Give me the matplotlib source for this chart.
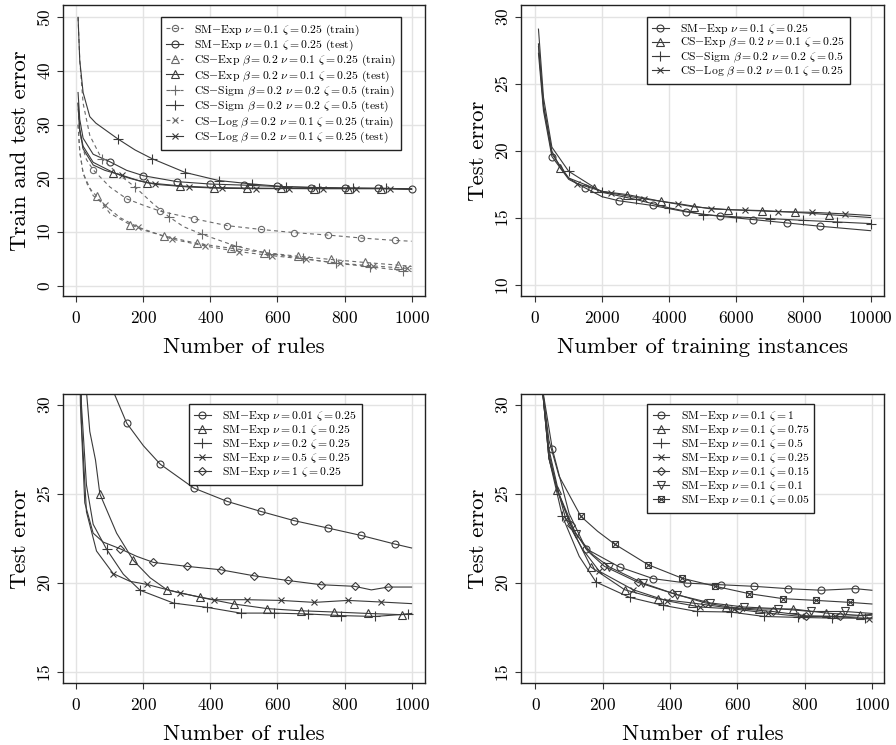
import matplotlib
matplotlib.use("Agg")
import matplotlib.pyplot as plt
from matplotlib.legend_handler import HandlerTuple

plt.rcParams['font.family'] = ['cmr10', 'DejaVu Serif']
plt.rcParams['mathtext.fontset'] = 'cm'
plt.rcParams['axes.formatter.use_mathtext'] = True

# ---------------- top left: train / test error vs number of rules ----------------
tl_labels = [r'SM$-$Exp $\nu = 0.1$ $\zeta = 0.25$ (train)',
             r'SM$-$Exp $\nu = 0.1$ $\zeta = 0.25$ (test)',
             r'CS$-$Exp $\beta = 0.2$ $\nu = 0.1$ $\zeta = 0.25$ (train)',
             r'CS$-$Exp $\beta = 0.2$ $\nu = 0.1$ $\zeta = 0.25$ (test)',
             r'CS$-$Sigm $\beta = 0.2$ $\nu = 0.2$ $\zeta = 0.5$ (train)',
             r'CS$-$Sigm $\beta = 0.2$ $\nu = 0.2$ $\zeta = 0.5$ (test)',
             r'CS$-$Log $\beta = 0.2$ $\nu = 0.1$ $\zeta = 0.25$ (train)',
             r'CS$-$Log $\beta = 0.2$ $\nu = 0.1$ $\zeta = 0.25$ (test)']

sm_train_x = [5, 10, 20, 30, 50, 100, 150, 200, 250, 350, 450, 550, 650, 750, 850, 950, 1000]
sm_train_y = [33, 29, 25.5, 23.5, 21.6, 18.4, 16.2, 15.0, 13.9, 12.5, 11.2, 10.5, 9.9, 9.45, 8.9, 8.45, 8.3]
sm_test_x = [5, 10, 20, 50, 100, 150, 200, 300, 400, 500, 600, 700, 800, 900, 1000]
sm_test_y = [36, 31, 27.5, 24.5, 23.1, 21.5, 20.5, 19.4, 18.95, 18.75, 18.5, 18.3, 18.2, 18.15, 18.0]
cse_train_x = [5, 10, 20, 35, 60, 100, 160, 210, 260, 360, 460, 560, 660, 760, 860, 960, 1000]
cse_train_y = [30, 25, 21, 18.5, 16.7, 13.5, 11.4, 10.2, 9.3, 7.9, 7.0, 6.2, 5.5, 4.9, 4.35, 3.85, 3.6]
cse_test_x = [5, 10, 20, 50, 110, 160, 210, 310, 410, 510, 610, 710, 810, 910, 1000]
cse_test_y = [34, 29, 26, 23, 21.1, 20.0, 19.2, 18.6, 18.3, 18.2, 18.15, 18.1, 18.1, 18.1, 18.0]
css_train_x = [5, 10, 20, 40, 75, 125, 175, 225, 275, 320, 375, 475, 575, 675, 775, 875, 975, 1000]
css_train_y = [50, 42, 34, 28, 23.7, 20.8, 18.4, 15.5, 12.9, 11.0, 9.6, 7.4, 6.0, 5.1, 4.2, 3.55, 2.8, 2.65]
css_test_x = [5, 10, 20, 40, 58, 125, 175, 225, 325, 425, 525, 625, 725, 825, 925, 1000]
css_test_y = [50, 42, 36, 31.5, 30.3, 27.3, 25.3, 23.7, 21.1, 19.6, 18.95, 18.45, 18.3, 18.2, 18.15, 18.05]
csl_train_x = [5, 10, 20, 50, 85, 130, 185, 285, 385, 485, 585, 685, 785, 885, 985, 1000]
csl_train_y = [30, 25, 21, 16.8, 15.0, 12.7, 10.9, 8.7, 7.4, 6.35, 5.6, 4.95, 4.2, 3.7, 3.25, 3.15]
csl_test_x = [5, 10, 20, 50, 85, 135, 185, 235, 335, 435, 535, 635, 735, 835, 935, 1000]
csl_test_y = [34, 29, 25.5, 22.5, 21.5, 20.6, 19.6, 18.9, 18.4, 18.15, 18.1, 18.1, 18.1, 18.1, 18.1, 18.0]

# ---------------- top right: test error vs training instances ----------------
tr_labels = [r'SM$-$Exp $\nu = 0.1$ $\zeta = 0.25$',
             r'CS$-$Exp $\beta = 0.2$ $\nu = 0.1$ $\zeta = 0.25$',
             r'CS$-$Sigm $\beta = 0.2$ $\nu = 0.2$ $\zeta = 0.5$',
             r'CS$-$Log $\beta = 0.2$ $\nu = 0.1$ $\zeta = 0.25$']
tr_sm_x = [100, 250, 500, 1000, 1500, 2000, 2500, 3500, 4500, 5500, 6500, 7500, 8500, 10000]
tr_sm_y = [27.3, 23.0, 19.6, 17.9, 17.25, 16.6, 16.3, 15.95, 15.47, 15.14, 14.9, 14.65, 14.4, 14.07]
tr_cse_x = [100, 250, 500, 750, 1000, 1750, 2000, 2750, 3750, 4750, 5750, 6750, 7750, 8750, 10000]
tr_cse_y = [28.0, 23.5, 20.0, 18.75, 18.0, 17.25, 17.0, 16.76, 16.26, 15.84, 15.64, 15.57, 15.44, 15.27, 15.05]
tr_css_x = [100, 250, 500, 1000, 2000, 3000, 4000, 5000, 6000, 7000, 8000, 9000, 10000]
tr_css_y = [29.1, 24.0, 20.3, 18.5, 16.93, 16.4, 15.77, 15.27, 15.1, 14.97, 14.84, 14.72, 14.6]
tr_csl_x = [100, 250, 500, 1000, 1250, 2000, 2250, 3250, 4250, 5250, 6250, 7250, 8250, 9250, 10000]
tr_csl_y = [27.8, 23.3, 19.8, 18.0, 17.58, 17.0, 16.88, 16.44, 16.09, 15.69, 15.59, 15.49, 15.44, 15.32, 15.2]

# ---------------- bottom left: varying nu ----------------
bl_labels = [r'SM$-$Exp $\nu = 0.01$ $\zeta = 0.25$',
             r'SM$-$Exp $\nu = 0.1$ $\zeta = 0.25$',
             r'SM$-$Exp $\nu = 0.2$ $\zeta = 0.25$',
             r'SM$-$Exp $\nu = 0.5$ $\zeta = 0.25$',
             r'SM$-$Exp $\nu = 1$ $\zeta = 0.25$']
nu001_x = [5, 50, 100, 150, 200, 250, 350, 450, 550, 650, 750, 850, 950, 1000]
nu001_y = [48, 37, 31.2, 28.97, 27.7, 26.67, 25.33, 24.58, 24.02, 23.5, 23.09, 22.67, 22.19, 21.97]
nu01_x = [5, 20, 40, 57, 70, 120, 170, 220, 270, 370, 470, 570, 670, 770, 870, 970, 1000]
nu01_y = [45, 33, 28.5, 26.9, 25.0, 22.8, 21.27, 20.3, 19.63, 19.2, 18.83, 18.57, 18.45, 18.38, 18.3, 18.23, 18.3]
nu02_x = [5, 15, 30, 50, 90, 140, 190, 290, 390, 490, 590, 690, 790, 890, 990, 1000]
nu02_y = [42, 30, 25.5, 23.3, 21.9, 20.5, 19.6, 18.88, 18.64, 18.32, 18.32, 18.27, 18.18, 18.13, 18.27, 18.3]
nu05_x = [5, 15, 30, 60, 110, 160, 210, 310, 410, 510, 610, 710, 810, 910, 1000]
nu05_y = [40, 29, 24, 21.8, 20.53, 20.1, 19.93, 19.44, 19.07, 19.07, 19.03, 18.92, 19.03, 18.94, 18.85]
nu1_x = [5, 12, 25, 50, 80, 130, 180, 230, 330, 430, 530, 630, 730, 830, 880, 930, 1000]
nu1_y = [40, 30, 24.5, 22.8, 22.3, 21.93, 21.5, 21.16, 20.94, 20.75, 20.41, 20.15, 19.91, 19.82, 19.62, 19.78, 19.78]

# ---------------- bottom right: varying zeta ----------------
br_labels = [r'SM$-$Exp $\nu = 0.1$ $\zeta = 1$',
             r'SM$-$Exp $\nu = 0.1$ $\zeta = 0.75$',
             r'SM$-$Exp $\nu = 0.1$ $\zeta = 0.5$',
             r'SM$-$Exp $\nu = 0.1$ $\zeta = 0.25$',
             r'SM$-$Exp $\nu = 0.1$ $\zeta = 0.15$',
             r'SM$-$Exp $\nu = 0.1$ $\zeta = 0.1$',
             r'SM$-$Exp $\nu = 0.1$ $\zeta = 0.05$']
z1_x = [5, 20, 50, 100, 150, 250, 350, 450, 550, 650, 750, 850, 950, 1000]
z1_y = [45, 31, 27.53, 23.9, 21.93, 20.9, 20.25, 20.0, 19.91, 19.82, 19.69, 19.6, 19.69, 19.6]
z075_x = [5, 20, 40, 65, 115, 165, 265, 365, 465, 565, 665, 765, 865, 965, 1000]
z075_y = [45, 31, 27, 25.2, 22.8, 20.9, 19.63, 19.11, 18.89, 18.64, 18.55, 18.55, 18.32, 18.19, 18.25]
z05_x = [5, 20, 40, 80, 130, 180, 280, 380, 480, 580, 680, 780, 880, 980, 1000]
z05_y = [45, 31, 27, 23.74, 21.5, 20.06, 19.2, 18.75, 18.41, 18.38, 18.13, 18.08, 18.04, 18.04, 18.05]
z025_x = [5, 20, 40, 90, 140, 190, 290, 390, 490, 590, 690, 790, 890, 990, 1000]
z025_y = [45, 31, 27, 23.6, 21.9, 20.66, 19.63, 19.01, 18.66, 18.55, 18.32, 18.13, 18.13, 18.0, 18.0]
z015_x = [5, 20, 40, 65, 105, 155, 205, 305, 405, 505, 605, 705, 805, 905, 1000]
z015_y = [45, 31, 27.3, 25.2, 23.24, 21.8, 20.94, 20.04, 19.44, 18.89, 18.57, 18.41, 18.17, 18.13, 18.2]
z01_x = [5, 20, 40, 70, 120, 170, 220, 320, 420, 520, 620, 720, 820, 920, 1000]
z01_y = [45, 31, 27.5, 25.0, 22.75, 21.6, 20.9, 20.0, 19.35, 18.89, 18.66, 18.57, 18.41, 18.41, 18.3]
z005_x = [5, 20, 40, 70, 135, 185, 235, 335, 435, 535, 635, 735, 835, 935, 1000]
z005_y = [45, 31, 28, 26, 23.74, 22.9, 22.19, 21.03, 20.28, 19.82, 19.41, 19.13, 19.03, 18.92, 18.83]


def marks(xs, first, step):
    # indices of the points that carry a marker (every `step` from `first`)
    return [i for i, v in enumerate(xs) if v >= first and (v - first) % step == 0]


def series(ax, xs, ys, marker, first, step, ls='-', color='#3a3a3a', ms=5, lw=0.8):
    h, = ax.plot(xs, ys, ls=ls, color=color, lw=lw, marker=marker, ms=ms,
                 mfc='none', mec=color, mew=0.8, markevery=marks(xs, first, step))
    if ls == '--':
        h.set_dashes((3.5, 3))
    return h


def style(ax, xlim, ylim, xticks, yticks, xlabel, ylabel):
    ax.set_xlim(*xlim)
    ax.set_ylim(*ylim)
    ax.set_xticks(xticks)
    ax.set_yticks(yticks)
    ax.grid(True, color='#e3e3e3', lw=1.0)
    ax.set_axisbelow(True)
    ax.tick_params(axis='both', labelsize=12.5, length=4, width=0.8, color='#333333')
    ax.tick_params(axis='x', pad=6)
    for lab in ax.get_yticklabels():
        lab.set_rotation(90)
        lab.set_va('center')
    for s in ax.spines.values():
        s.set_linewidth(1.0)
        s.set_color('#222222')
    ax.set_xlabel(xlabel, fontsize=16.5, labelpad=8)
    ax.set_ylabel(ylabel, fontsize=16.5, labelpad=4)


def legend(ax, handles, labels, x, y):
    leg = ax.legend(handles, labels, loc='upper left', bbox_to_anchor=(x, y),
                    borderaxespad=0, fontsize=8.4, labelspacing=0.0, handlelength=1.4,
                    handletextpad=1.0, borderpad=0.45, numpoints=1, fancybox=False,
                    framealpha=1, edgecolor='#222222',
                    handler_map={tuple: HandlerTuple(ndivide=1)})
    leg.get_frame().set_linewidth(1.0)


fig = plt.figure(figsize=(8.96, 7.45), dpi=100)
ax1 = fig.add_axes([0.0703, 0.6027, 0.404, 0.3906])
ax2 = fig.add_axes([0.5815, 0.6027, 0.4051, 0.3906])
ax3 = fig.add_axes([0.0703, 0.0832, 0.404, 0.3879])
ax4 = fig.add_axes([0.5815, 0.0832, 0.4051, 0.3879])

# top left
gr = '#6a6a6a'
h = [series(ax1, sm_train_x, sm_train_y, 'o', 50, 100, '--', gr, 4.5),
     series(ax1, sm_test_x, sm_test_y, 'o', 100, 100),
     series(ax1, cse_train_x, cse_train_y, '^', 60, 100, '--', gr, 5.5),
     series(ax1, cse_test_x, cse_test_y, '^', 110, 100, ms=5.5),
     series(ax1, css_train_x, css_train_y, '+', 75, 100, '--', gr, 7),
     series(ax1, css_test_x, css_test_y, '+', 125, 100, ms=7),
     series(ax1, csl_train_x, csl_train_y, 'x', 85, 100, '--', gr, 5),
     series(ax1, csl_test_x, csl_test_y, 'x', 135, 100)]
style(ax1, (-40, 1040), (-1.9, 52.3), range(0, 1001, 200), range(0, 51, 10),
      'Number of rules', 'Train and test error')
legend(ax1, h, tl_labels, 0.271, 0.959)

# top right
h = [series(ax2, tr_sm_x, tr_sm_y, 'o', 500, 1000),
     series(ax2, tr_cse_x, tr_cse_y, '^', 750, 1000, ms=5.5),
     series(ax2, tr_css_x, tr_css_y, '+', 1000, 1000, ms=7),
     series(ax2, tr_csl_x, tr_csl_y, 'x', 1250, 1000)]
style(ax2, (-420, 10400), (9.2, 30.9), range(0, 10001, 2000), range(10, 31, 5),
      'Number of training instances', 'Test error')
legend(ax2, h, tr_labels, 0.347, 0.959)

# bottom left
h = [series(ax3, nu001_x, nu001_y, 'o', 150, 100),
     series(ax3, nu01_x, nu01_y, '^', 70, 100, ms=5.5),
     series(ax3, nu02_x, nu02_y, '+', 90, 100, ms=7),
     series(ax3, nu05_x, nu05_y, 'x', 110, 100),
     series(ax3, nu1_x, nu1_y, 'D', 130, 100, ms=4.5)]
style(ax3, (-40, 1040), (14.4, 30.6), range(0, 1001, 200), range(15, 31, 5),
      'Number of rules', 'Test error')
legend(ax3, h, bl_labels, 0.348, 0.965)

# bottom right
h = [series(ax4, z1_x, z1_y, 'o', 50, 100),
     series(ax4, z075_x, z075_y, '^', 65, 100, ms=5.5),
     series(ax4, z05_x, z05_y, '+', 80, 100, ms=7),
     series(ax4, z025_x, z025_y, 'x', 90, 100),
     series(ax4, z015_x, z015_y, 'D', 105, 100, ms=4.5),
     series(ax4, z01_x, z01_y, 'v', 120, 100, ms=5.5)]
sq = series(ax4, z005_x, z005_y, 's', 135, 100, ms=5)
cross, = ax4.plot(z005_x, z005_y, ls='none', marker='x', ms=4, mec='#3a3a3a', mew=0.8,
                  markevery=marks(z005_x, 135, 100))
h.append((sq, cross))
style(ax4, (-43, 1036), (14.4, 30.6), range(0, 1001, 200), range(15, 31, 5),
      'Number of rules', 'Test error')
legend(ax4, h, br_labels, 0.348, 0.965)

fig.savefig('out.png', dpi=100)
